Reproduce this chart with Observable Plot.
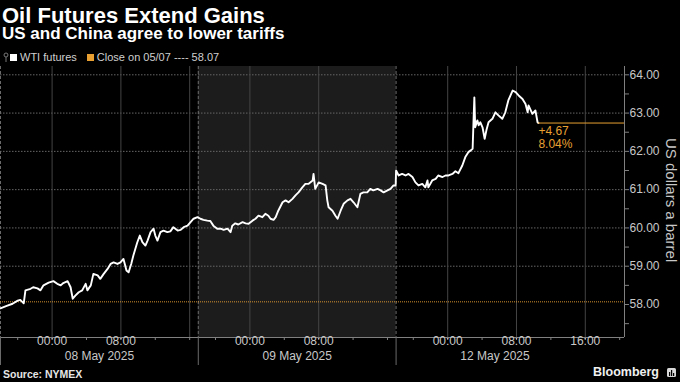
<!DOCTYPE html>
<html><head><meta charset="utf-8">
<script src="https://cdn.jsdelivr.net/npm/d3@7"></script>
<script src="https://cdn.jsdelivr.net/npm/@observablehq/plot@0.6"></script>
<style>
html,body{margin:0;padding:0;background:#000;}
#wrap{position:relative;width:680px;height:382px;background:#000;overflow:hidden;font-family:"Liberation Sans",Arial,sans-serif;color:#fff;}
#title{position:absolute;left:2px;top:6px;font-size:22px;line-height:20px;font-weight:bold;white-space:nowrap;}
#sub{position:absolute;left:2px;top:27px;font-size:17px;line-height:14px;font-weight:bold;white-space:nowrap;}
#legend{position:absolute;left:3px;top:51px;font-size:11px;line-height:12px;color:#cfcfcf;white-space:nowrap;display:flex;align-items:center;}
#legend .sw{display:inline-block;width:7px;height:7px;margin-right:3px;}
#chart{position:absolute;left:0;top:62px;}
#ylab{position:absolute;left:664px;top:138px;font-size:15px;line-height:15px;color:#c8c8c8;writing-mode:vertical-rl;white-space:nowrap;}
#source{position:absolute;left:3px;top:369px;font-size:10.5px;line-height:11px;font-weight:bold;color:#e6e6e6;}
#brand{position:absolute;right:21px;top:366px;font-size:12.5px;line-height:13px;font-weight:bold;color:#f0f0f0;}
#logo{position:absolute;left:667px;top:368px;}
</style></head>
<body>
<div id="wrap">
  <div id="title"></div>
  <div id="sub"></div>
  <div id="legend">
    <svg width="6" height="10" style="margin-right:1px"><circle cx="3" cy="3" r="2" fill="none" stroke="#777" stroke-width="1"/><line x1="3" y1="5" x2="3" y2="10" stroke="#777"/></svg>
    <span class="sw" style="background:#fff"></span><span id="lg1"></span>
    <span class="sw" style="background:#e8a033;margin-left:10px"></span><span id="lg2"></span>
  </div>
  <div id="chart"></div>
  <div id="ylab"></div>
  <div id="source"></div>
  <div id="brand"></div>
  <svg id="logo" width="9" height="9"><rect x="0" y="0" width="9" height="9" rx="1.5" fill="#d8d8d8"/><rect x="2" y="4" width="1.2" height="4" fill="#000"/><rect x="4" y="2" width="1.2" height="6" fill="#000"/><rect x="6" y="5" width="1.2" height="3" fill="#000"/></svg>
</div>
<script>
// ---- text ----
const titleText = "Oil Futures Extend Gains";
const subtitleText = "US and China agree to lower tariffs";
const seriesName = "WTI futures";
const closeDate = "05/07";
const closePrice = 58.07;
const sourceText = "Source: NYMEX";
const brandText = "Bloomberg";
const yLabel = "US dollars a barrel";

// ---- x axis (trading hours since the 7 May 18:00 session open; 23h sessions) ----
const sessionStarts = [0, 23, 46];
const sessionLabels = ["08 May 2025", "09 May 2025", "12 May 2025"];
const timeTickHours = [6, 14, 29, 37, 52, 60, 68];
const timeTickLabels = ["00:00", "08:00", "00:00", "08:00", "00:00", "08:00", "16:00"];
const gridHours = [6, 14, 22, 29, 37, 52, 60, 68];

// ---- y axis ----
const yTicks = [58, 59, 60, 61, 62, 63, 64];

// ---- series (hours, price) ----
const hours = [0,0.35,0.8,1.4,2.0,2.3,2.7,2.9,3.5,3.8,4.3,4.65,5.0,5.6,6.15,6.6,7.0,7.3,7.8,8.15,8.4,8.7,9.1,9.5,9.9,10.1,10.5,10.8,11.3,11.6,12.0,12.45,12.8,13.15,13.6,13.95,14.3,14.65,14.9,15.2,15.45,15.9,16.2,16.5,16.85,17.1,17.45,17.8,18.0,18.25,18.6,18.95,19.4,19.75,20.1,20.6,20.95,21.3,21.75,22.1,22.45,22.9,23.25,23.6,24.05,24.4,24.75,25.2,25.6,25.95,26.4,26.75,26.95,27.3,27.65,28.15,28.5,28.85,29.3,29.65,30.0,30.45,30.8,31.15,31.4,31.75,32.0,32.3,32.8,33.15,33.5,33.95,34.3,34.65,35.1,35.45,35.8,36.3,36.4,36.6,37.0,37.45,37.8,38.0,38.15,38.6,38.95,39.2,39.55,39.9,40.35,40.7,41.05,41.5,41.85,42.2,42.65,43.0,43.35,43.85,44.2,44.55,45.0,45.35,45.7,45.95,46.0,46.3,46.7,47.1,47.45,47.9,48.25,48.6,49.05,49.4,49.65,49.75,50.2,50.6,50.9,51.4,51.75,52.1,52.55,52.9,53.25,53.7,54.05,54.4,54.65,54.9,55.0,55.1,55.2,55.45,55.6,55.8,56.05,56.3,56.5,56.75,57.2,57.55,57.9,58.35,58.7,59.05,59.55,59.9,60.25,60.7,61.05,61.3,61.4,61.85,62.2,62.45,62.55];
const prices = [57.90,57.93,57.97,58.02,58.10,58.12,58.03,58.37,58.41,58.45,58.42,58.37,58.50,58.57,58.61,58.54,58.50,58.56,58.61,58.45,58.15,58.23,58.32,58.37,58.54,58.37,58.50,58.80,58.76,58.67,58.80,58.93,59.06,59.10,59.06,59.10,59.19,58.89,58.84,59.06,59.28,59.62,59.80,59.63,59.54,59.67,59.89,59.98,59.80,59.67,59.89,59.93,59.89,59.91,60.02,59.93,59.95,60.02,60.06,60.15,60.24,60.28,60.24,60.21,60.19,60.18,60.06,59.98,59.98,59.95,59.98,59.89,60.06,60.12,60.09,60.15,60.12,60.11,60.19,60.24,60.32,60.28,60.37,60.32,60.24,60.21,60.28,60.45,60.67,60.72,60.67,60.76,60.85,60.93,61.06,61.15,61.15,61.24,61.41,61.02,61.19,61.15,61.11,60.72,60.54,60.45,60.32,60.24,60.45,60.63,60.72,60.76,60.67,60.54,60.89,60.93,60.93,61.02,60.98,61.02,60.98,60.93,60.98,61.02,61.11,61.11,61.50,61.37,61.41,61.37,61.41,61.33,61.19,61.11,61.15,61.06,61.24,61.06,61.24,61.28,61.37,61.33,61.37,61.37,61.41,61.48,61.43,61.63,61.85,61.98,62.02,62.07,62.76,63.41,62.63,62.81,62.68,62.76,62.63,62.33,62.55,62.76,62.85,63.02,62.94,62.85,63.02,63.33,63.59,63.55,63.46,63.37,63.24,63.02,63.20,62.98,63.07,62.76,62.74];

// ---- derived ----
const data = hours.map((h, i) => ({h, p: prices[i]}));
const last = data[data.length - 1];
const change = last.p - closePrice;
const pct = change / closePrice * 100;
const sessionLen = 23;
const xMax = 72.56, yMin = 57.138, yMax = 64.217;
const orange = "#e8a033";
const minorX = [];
sessionStarts.forEach((s, i) => {
  const end = i === sessionStarts.length - 1 ? xMax : s + sessionLen;
  for (let t = s + 2; t < end; t += 4) minorX.push(t);
});
const minorY = yTicks.map(v => v - 0.5);

document.getElementById("title").textContent = titleText;
document.getElementById("sub").textContent = subtitleText;
document.getElementById("lg1").textContent = seriesName;
document.getElementById("lg2").textContent = `Close on ${closeDate} ---- ${closePrice.toFixed(2)}`;
document.getElementById("ylab").textContent = yLabel;
document.getElementById("source").textContent = sourceText;
document.getElementById("brand").textContent = brandText;

const chart = Plot.plot({
  width: 680, height: 320,
  marginTop: 4, marginBottom: 45, marginLeft: 0, marginRight: 56,
  style: {background: "transparent", color: "#c8c8c8", fontFamily: "Liberation Sans, Arial, sans-serif", fontSize: "12px"},
  x: {domain: [0, xMax]},
  y: {domain: [yMin, yMax]},
  marks: [
    Plot.rect([{x1: sessionStarts[1], x2: sessionStarts[2]}], {x1: "x1", x2: "x2", fill: "#1c1c1c"}),
    Plot.ruleY(yTicks.filter(v => v !== 58), {stroke: "#666", strokeDasharray: "1.5,1.5"}),
    Plot.ruleX(gridHours, {stroke: "#444"}),
    Plot.ruleX(sessionStarts, {stroke: "#6a6a6a", strokeDasharray: "3,2"}),
    Plot.ruleY([closePrice], {stroke: orange, strokeDasharray: "1,1", strokeOpacity: 0.9}),
    Plot.line(data, {x: "h", y: "p", stroke: "#fff", strokeWidth: 1.9}),
    Plot.ruleY([{x1: last.h, x2: xMax, y: last.p}], {x1: "x1", x2: "x2", y: "y", stroke: orange}),
    Plot.text([last], {x: "h", y: "p", text: () => `+${change.toFixed(2)}`, dy: 8, textAnchor: "start", fill: orange, fontSize: 12}),
    Plot.text([last], {x: "h", y: "p", text: () => `${pct.toFixed(2)}%`, dy: 21, textAnchor: "start", fill: orange, fontSize: 12}),
    Plot.ruleY([yMin], {stroke: "#808080"}),
    Plot.ruleX([xMax], {stroke: "#808080"}),
    Plot.axisX({ticks: minorX, tickSize: 3, tickFormat: () => "", stroke: "#808080", label: null}),
    Plot.axisX({ticks: sessionStarts, tickSize: 28, tickFormat: () => "", stroke: "#6a6a6a", label: null}),
    Plot.text(timeTickHours.map((h, i) => ({h, t: timeTickLabels[i]})), {x: "h", text: "t", frameAnchor: "bottom", dy: 7, fill: "#c8c8c8", fontSize: 12}),
    Plot.text(sessionStarts.map((s, i) => ({h: s + sessionLen / 2, t: sessionLabels[i]})), {x: "h", text: "t", frameAnchor: "bottom", dy: 22, fill: "#c8c8c8", fontSize: 12}),
    Plot.axisY({anchor: "right", ticks: yTicks, tickSize: 4, tickPadding: 1, tickFormat: d => d.toFixed(2), stroke: "#808080", fill: "#c8c8c8", fontSize: 12, label: null}),
    Plot.axisY({anchor: "right", ticks: minorY, tickSize: 4, tickFormat: () => "", stroke: "#808080", label: null})
  ]
});
document.getElementById("chart").appendChild(chart);
</script>
</body></html>
